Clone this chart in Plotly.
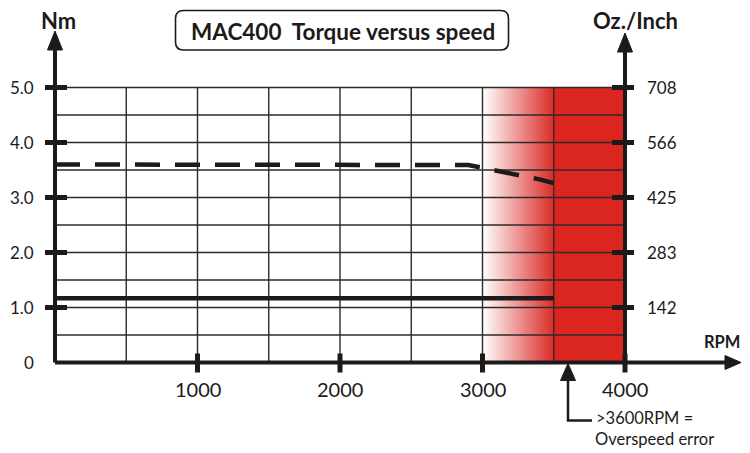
import numpy as np
import plotly.graph_objects as go

# ---------------- data ----------------
rpm_ticks = [1000, 2000, 3000, 4000]
rpm_tick_labels = ["1000", "2000", "3000", "4000"]
nm_ticks = [0, 1, 2, 3, 4, 5]
nm_tick_labels = ["0", "1.0", "2.0", "3.0", "4.0", "5.0"]
ozin_ticks = [1, 2, 3, 4, 5]
ozin_tick_labels = ["142", "283", "425", "566", "708"]

peak_rpm = [0, 2800, 2900, 3000, 3100, 3200, 3300, 3400, 3500]
peak_nm = [3.6, 3.6, 3.59, 3.54, 3.48, 3.42, 3.38, 3.33, 3.26]
cont_rpm = [0, 3500]
cont_nm = [1.17, 1.17]

grid_rpm = [500, 1000, 1500, 2000, 2500, 3000, 3500]
grid_nm = [0.5, 1.0, 1.5, 2.0, 2.5, 3.0, 3.5, 4.0, 4.5, 5.0]

warn_start_rpm = 3000
red_start_rpm = 3500
max_rpm = 4000
max_nm = 5
overspeed_rpm = 3600

# ---------------- geometry (page pixel mapping) ----------------
PAGE_OFF = 8          # default body margin of the page
W, H = 750 - PAGE_OFF, 453 - PAGE_OFF
RIGHT_VIS = 741       # last visible page pixel column
X0_PX, X_PER = 55.0, 570.0 / 4000.0
Y0_PX, Y_PER = 362.5, 55.0


def X(px):
    return (px - X0_PX) / X_PER


def Y(py):
    return (Y0_PX - py) / Y_PER


def dx(px):
    return px / X_PER


def dy(px):
    return px / Y_PER


INK = "#1c1a1a"
GRID = "#2b2b2b"
RED = "#db2620"
FONT = "Lato"

fig = go.Figure()

# gradient + red zone
edges = list(np.linspace(warn_start_rpm, red_start_rpm, 101)) + [max_rpm]
zrow = list(np.linspace(0.0, 0.97, 100)) + [1.0]
fig.add_trace(go.Heatmap(
    x=edges, y=[0, max_nm], z=[zrow],
    colorscale=[[0, "#ffffff"], [1, RED]], zmin=0, zmax=1,
    showscale=False, hoverinfo="skip"))

# grid
gx, gy = [], []
for r in grid_rpm:
    gx += [r, r, None]
    gy += [0, max_nm, None]
for n in grid_nm:
    gx += [0, max_rpm, None]
    gy += [n, n, None]
fig.add_trace(go.Scatter(x=gx, y=gy, mode="lines",
                         line=dict(color=GRID, width=1.4),
                         hoverinfo="skip", showlegend=False))

# curves
fig.add_trace(go.Scatter(x=peak_rpm, y=peak_nm, mode="lines",
                         line=dict(color=INK, width=4.5, dash="25px,15px"),
                         hoverinfo="skip", showlegend=False))
fig.add_trace(go.Scatter(x=cont_rpm, y=cont_nm, mode="lines",
                         line=dict(color=INK, width=4.5),
                         hoverinfo="skip", showlegend=False))

shapes = []


def line(x0, y0, x1, y1, w, color=INK):
    shapes.append(dict(type="line", x0=x0, y0=y0, x1=x1, y1=y1,
                       xref="x", yref="y", layer="above",
                       line=dict(color=color, width=w)))


def tri(tx, ty, direction, length_px, half_px):
    if direction == "up":
        pts = [(tx, ty), (tx - dx(half_px), ty - dy(length_px)), (tx + dx(half_px), ty - dy(length_px))]
    else:  # right
        pts = [(tx, ty), (tx - dx(length_px), ty + dy(half_px)), (tx - dx(length_px), ty - dy(half_px))]
    p = "M{},{} L{},{} L{},{} Z".format(*[c for pt in pts for c in pt])
    shapes.append(dict(type="path", path=p, xref="x", yref="y", layer="above",
                       fillcolor=INK, line=dict(color=INK, width=1)))


# left axis
line(0, 0, 0, Y(49), 4)
tri(0, Y(31), "up", 19, 7.5)
# right axis
line(max_rpm, 0, max_rpm, Y(52), 4)
tri(max_rpm, Y(33), "up", 19, 7.5)
# x axis
line(0, 0, X(RIGHT_VIS - 14), 0, 4)
tri(X(RIGHT_VIS), 0, "right", 16, 7)

# ticks
for n in nm_ticks[1:]:
    line(-dx(10), n, dx(12), n, 5)
for n in ozin_ticks:
    line(max_rpm - dx(13), n, max_rpm + dx(9), n, 5)
for r in rpm_ticks:
    line(r, -dy(10), r, dy(9), 5)

# overspeed pointer
tri(overspeed_rpm, Y(363.5), "up", 17, 7.5)
line(overspeed_rpm, Y(380), overspeed_rpm, Y(420.5), 2.5)
line(overspeed_rpm - dx(1.2), Y(420.5), X(592), Y(420.5), 2.5)

# title box (rounded)
bx0, bx1, by0, by1, rr = 175.5, 508.5, 10.5, 50, 8
path = (
    f"M{X(bx0 + rr)},{Y(by0)} L{X(bx1 - rr)},{Y(by0)} Q{X(bx1)},{Y(by0)} {X(bx1)},{Y(by0 + rr)} "
    f"L{X(bx1)},{Y(by1 - rr)} Q{X(bx1)},{Y(by1)} {X(bx1 - rr)},{Y(by1)} "
    f"L{X(bx0 + rr)},{Y(by1)} Q{X(bx0)},{Y(by1)} {X(bx0)},{Y(by1 - rr)} "
    f"L{X(bx0)},{Y(by0 + rr)} Q{X(bx0)},{Y(by0)} {X(bx0 + rr)},{Y(by0)} Z"
)
shapes.append(dict(type="path", path=path, xref="x", yref="y", layer="above",
                   fillcolor="white", line=dict(color=INK, width=1.6)))

annotations = []


def text(x, y, s, size, xanchor="center", bold=False):
    annotations.append(dict(
        x=x, y=y, xref="x", yref="y", text=f"<b>{s}</b>" if bold else s,
        showarrow=False, xanchor=xanchor, yanchor="middle", borderpad=0,
        font=dict(family=FONT, size=size, color=INK)))


for n, lab in zip(nm_ticks, nm_tick_labels):
    text(-dx(20), n, lab, 17, xanchor="right")
for n, lab in zip(ozin_ticks, ozin_tick_labels):
    text(max_rpm + dx(21), n, lab, 17, xanchor="left")
for r, lab in zip(rpm_ticks, rpm_tick_labels):
    text(r, Y(389), lab, 20)

text(X(58), Y(20), "Nm", 22, bold=True)
text(X(635), Y(20), "Oz./Inch", 22, bold=True)
text(X(RIGHT_VIS), Y(342), "RPM", 16.5, xanchor="right", bold=True)
text(X(343), Y(31), "MAC400&nbsp;&nbsp;Torque versus speed", 22.5, bold=True)
text(X(595), Y(418), "&gt;3600RPM =", 16.5, xanchor="left")
text(X(594), Y(439), "Overspeed error", 16.5, xanchor="left")

fig.update_layout(
    width=W, height=H, autosize=False,
    margin=dict(l=0, r=0, t=0, b=0),
    paper_bgcolor="white", plot_bgcolor="white",
    showlegend=False,
    xaxis=dict(range=[X(PAGE_OFF), X(PAGE_OFF + W)], visible=False, fixedrange=True),
    yaxis=dict(range=[Y(PAGE_OFF + H), Y(PAGE_OFF)], visible=False, fixedrange=True),
    shapes=shapes, annotations=annotations,
)

fig.write_html("out.html")
